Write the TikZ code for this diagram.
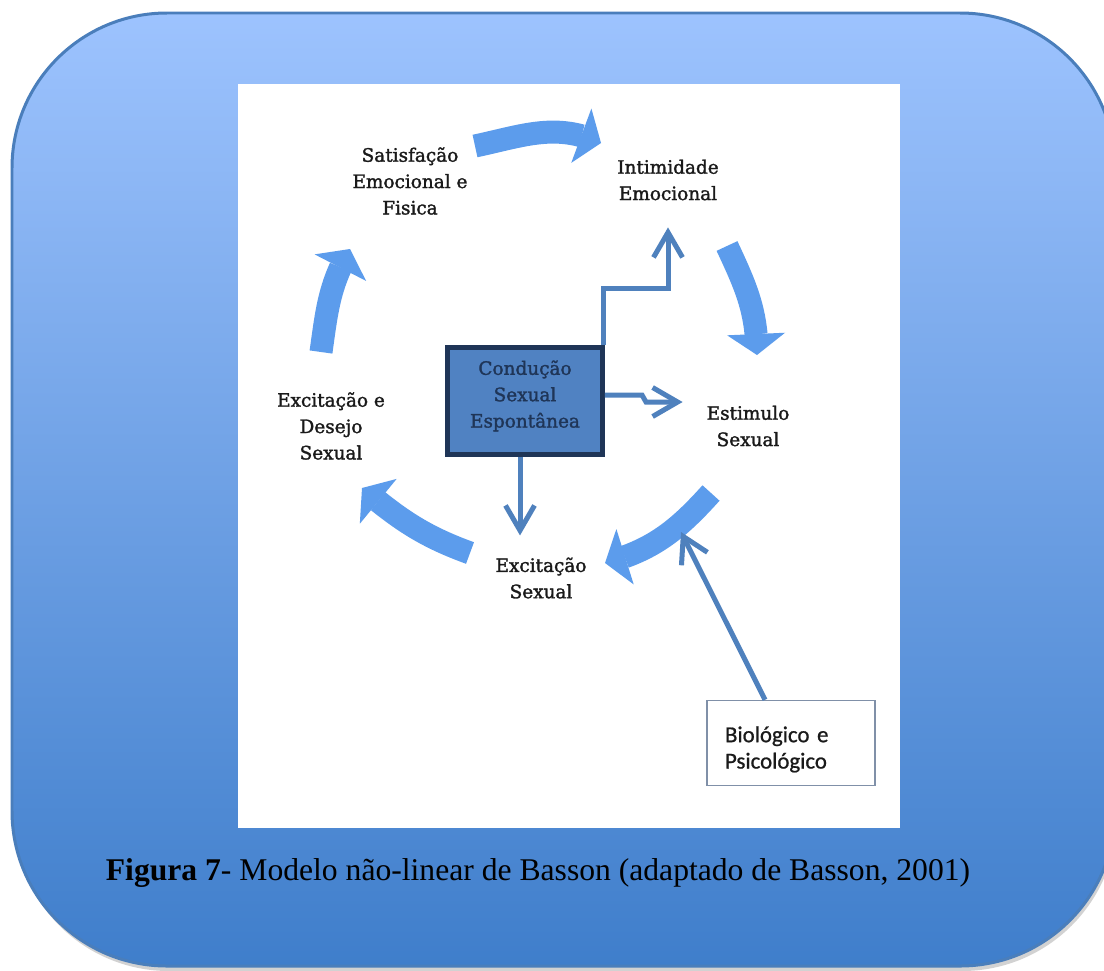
\documentclass[tikz,border=0pt]{standalone}
\usepackage{fontspec}
\setmainfont{Liberation Serif}
\newfontfamily\phasefont[FakeBold=1.6]{DejaVu Serif}
\newfontfamily\factorfont[FakeBold=0.8]{Carlito}
\usetikzlibrary{arrows.meta,bending,calc}
\definecolor{FrameBlue}{HTML}{4A7EBB}
\definecolor{SkyTop}{HTML}{9DC3FE}
\definecolor{SkyBottom}{HTML}{3F7ECB}
\definecolor{CycleBlue}{HTML}{5C9CEC}
\definecolor{LinkBlue}{HTML}{4F81BD}
\definecolor{DriveFill}{HTML}{5082C2}
\definecolor{DriveNavy}{HTML}{1F3557}
\definecolor{BoxGrey}{HTML}{8090A8}
\definecolor{Ink}{HTML}{1A1A1A}
\tikzset{
  phase/.style={align=center, inner sep=1pt, text=Ink, font=\phasefont\fontsize{10.5}{15}\selectfont},
  drivebox/.style={draw=DriveNavy, line width=0.1cm, fill=DriveFill, text=DriveNavy, align=center, minimum width=3.1cm, minimum height=2.14cm, text depth=0.28cm, font=\phasefont\fontsize{10.5}{15}\selectfont},
  factorbox/.style={draw=BoxGrey, line width=0.03cm, fill=white, align=left, text width=2.64cm, inner xsep=0.36cm, minimum height=1.7cm, text depth=0.35cm, text=Ink, font=\factorfont\fontsize{13}{15}\selectfont},
  cyclearrow/.style={line width=0.46cm, draw=CycleBlue, -{Triangle[width=1.16cm,length=0.42cm,line width=0pt]}},
  link/.style={line width=0.1cm, draw=LinkBlue, -{Straight Barb[length=0.5cm,width=0.58cm]}}
}

\begin{document}
\begin{tikzpicture}[x=0.02cm, y=0.02cm]
    \useasboundingbox (0,0) rectangle (1104,-970);
    \fill[gray!35, rounded corners=3.1cm] (14,-18) rectangle (1117,-971);
    \shade[top color=SkyTop, bottom color=SkyBottom, draw=FrameBlue, line width=0.06cm, rounded corners=3.1cm] (12,-13) rectangle (1115,-966);
    \fill[white] (238,-84) rectangle (900,-828);

    \node[phase] (satisf) at (410,-181) {Satisfação\\Emocional e\\Fisica};
    \node[phase] (intim) at (668,-180) {Intimidade\\Emocional};
    \node[phase] (estim) at (748,-426) {Estimulo\\Sexual};
    \node[phase] (excit) at (541,-578) {Excitação\\Sexual};
    \node[phase] (desejo) at (331,-426) {Excitação e\\Desejo\\Sexual};
    \node[drivebox] (drive) at (525,-401) {Condução\\Sexual\\Espontânea};
    \node[factorbox] (factors) at (791,-743) {Biológico e\\Psicológico};

    \coordinate (c1from) at (475,-146);
    \coordinate (c1to) at (601,-143);
    \coordinate (c2from) at (727,-246);
    \coordinate (c2to) at (757,-355);
    \coordinate (c3from) at (711,-493);
    \coordinate (c3to) at (605,-563);
    \coordinate (c4from) at (470,-553);
    \coordinate (c4to) at (362,-488);
    \coordinate (c5from) at (321,-352);
    \coordinate (c5to) at (350,-249);
    \coordinate (hit) at (681,-532);

    \draw[cyclearrow] (c1from) to[out=12, in=155] (c1to);
    \draw[cyclearrow] (c2from) to[out=-65, in=90] (c2to);
    \draw[cyclearrow] (c3from) to[out=228, in=15] (c3to);
    \draw[cyclearrow] (c4from) to[out=160, in=-40] (c4to);
    \draw[cyclearrow] (c5from) to[out=82, in=240] (c5to);

    \draw[link, shorten >=0.5cm] ([xshift=-0.03cm]drive.north east) -- ++(0,57) -| (intim.south);
    \draw[link] ([yshift=0.12cm]drive.east) -- ++(37,0) -- ++(4,-7) -- ([xshift=-0.44cm,yshift=0.48cm]estim.west);
    \draw[link, shorten >=0.4cm] ([xshift=-0.1cm]drive.south) -- ([xshift=-0.1cm]drive.south |- excit.north);
    \draw[link] (factors.121) -- (hit);

    \node[anchor=base, font=\fontsize{18}{20}\selectfont] (caption) at (538,-880) {\textbf{Figura 7}- Modelo não-linear de Basson (adaptado de Basson, 2001)};
  \end{tikzpicture}
\end{document}
